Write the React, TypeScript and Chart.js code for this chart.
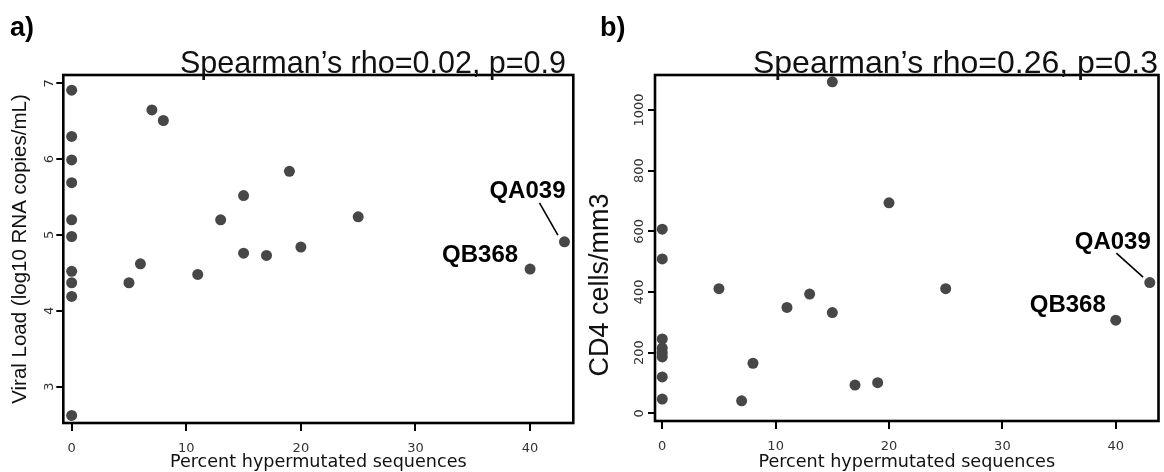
import React, { useEffect, useRef } from "react";
import { Chart, registerables } from "chart.js";

Chart.register(...registerables);

// ---------- data ----------
const xTickValues = [0, 10, 20, 30, 40];
const viralTickValues = [3, 4, 5, 6, 7];
const cd4TickValues = [0, 200, 400, 600, 800, 1000];

// panel a: viral load
const viralHyper = [0, 0, 0, 0, 0, 0, 0, 0, 0, 0, 5, 6, 7, 8, 11, 13, 15, 15, 17, 19, 20, 25, 40, 43];
const viralLoad = [6.91, 6.3, 5.99, 5.69, 5.2, 4.98, 4.52, 4.37, 4.19, 2.62, 4.37, 4.62, 6.65, 6.51, 4.48, 5.2, 5.52, 4.76, 4.73, 5.84, 4.84, 5.24, 4.55, 4.91];

// panel b: CD4 count
const cd4Hyper = [0, 0, 0, 0, 0, 0, 0, 0, 5, 7, 8, 11, 13, 15, 15, 17, 19, 20, 25, 40, 43];
const cd4Count = [607, 509, 245, 215, 200, 186, 120, 47, 411, 41, 165, 349, 393, 332, 1093, 93, 101, 694, 411, 307, 431];

// labelled subjects
const noteNames = ["QA039", "QB368"];
const noteHyper = [43, 40];
const noteViral = [4.91, 4.55];
const noteCd4 = [431, 307];

const panelLetters = ["a)", "b)"];
const statTexts = ["Spearman\u2019s rho=0.02, p=0.9", "Spearman\u2019s rho=0.26, p=0.3"];
const xTitle = "Percent hypermutated sequences";
const yTitles = ["Viral Load (log10 RNA copies/mL)", "CD4 cells/mm3"];

// ---------- styling ----------
const DOT = "#474747";
const TICK_FONT = "DejaVu Sans";
const SANS = "Liberation Sans";

type NoteStyle = { dx: number; dy: number; line?: [number, number, number, number] };

type Panel = {
  xs: number[];
  ys: number[];
  xMin: number;
  xMax: number;
  yMin: number;
  yMax: number;
  yTicks: number[];
  yAxisW: number;
  xAxisH: number;
  padRight: number;
  yTickPad: number;
  yTitle: string;
  yTitleSize: number;
  yTitleCustom: boolean;
  yTitleX: number;
  yTitleY: number;
  letter: string;
  letterX: number;
  stat: string;
  statRight: number;
  statSize: number;
  noteYs: number[];
  noteStyles: NoteStyle[];
};

function decorPlugin(p: Panel) {
  return {
    id: "decor",
    afterDraw(chart: any) {
      const { ctx, chartArea: ca, scales } = chart;
      const xs = scales.x;
      const ys = scales.y;
      ctx.save();
      ctx.strokeStyle = "#000";
      ctx.lineWidth = 2.6;
      ctx.strokeRect(ca.left, ca.top, ca.right - ca.left, ca.bottom - ca.top);

      ctx.fillStyle = "#000";
      ctx.textBaseline = "alphabetic";
      ctx.textAlign = "left";
      ctx.font = `bold 27px "${SANS}"`;
      ctx.fillText(p.letter, p.letterX, 36);

      ctx.textAlign = "right";
      ctx.font = `${p.statSize}px "${SANS}"`;
      ctx.fillStyle = "#111";
      ctx.fillText(p.stat, p.statRight, 72.5);

      if (p.yTitleCustom) {
        ctx.save();
        ctx.translate(p.yTitleX, p.yTitleY);
        ctx.rotate(-Math.PI / 2);
        ctx.textAlign = "center";
        ctx.textBaseline = "middle";
        ctx.font = `${p.yTitleSize}px "${SANS}"`;
        ctx.fillText(p.yTitle, 0, 0);
        ctx.restore();
      }

      ctx.font = `bold 24px "${SANS}"`;
      ctx.textAlign = "center";
      ctx.textBaseline = "middle";
      ctx.fillStyle = "#000";
      ctx.strokeStyle = "#000";
      noteNames.forEach((name, i) => {
        const st = p.noteStyles[i];
        const px = xs.getPixelForValue(noteHyper[i]);
        const py = ys.getPixelForValue(p.noteYs[i]);
        ctx.fillText(name, px + st.dx, py + st.dy);
        if (st.line) {
          ctx.beginPath();
          ctx.lineWidth = 1.6;
          ctx.moveTo(px + st.line[0], py + st.line[1]);
          ctx.lineTo(px + st.line[2], py + st.line[3]);
          ctx.stroke();
        }
      });
      ctx.restore();
    },
  };
}

function buildConfig(p: Panel): any {
  return {
    type: "scatter",
    data: {
      datasets: [
        {
          data: p.xs.map((x, i) => ({ x, y: p.ys[i] })),
          pointRadius: 5.5,
          pointHoverRadius: 5.5,
          backgroundColor: DOT,
          borderWidth: 0,
        },
      ],
    },
    options: {
      responsive: false,
      animation: false,
      events: [],
      layout: { padding: { left: 0, top: 75, right: p.padRight, bottom: 0 } },
      plugins: {
        legend: { display: false },
        tooltip: { enabled: false },
        title: { display: false },
      },
      scales: {
        x: {
          type: "linear",
          min: p.xMin,
          max: p.xMax,
          afterBuildTicks: (s: any) => {
            s.ticks = xTickValues.map((v) => ({ value: v }));
          },
          afterFit: (s: any) => {
            s.height = p.xAxisH;
          },
          grid: { display: true, drawOnChartArea: false, drawTicks: true, tickLength: 8, color: "#000", lineWidth: 2 },
          border: { display: false },
          ticks: {
            font: { family: TICK_FONT, size: 13 },
            color: "#333",
            padding: 9.5,
            autoSkip: false,
            maxRotation: 0,
            minRotation: 0,
            callback: (v: any) => String(v),
          },
          title: {
            display: true,
            text: xTitle,
            font: { family: TICK_FONT, size: 17.6, lineHeight: 1 },
            color: "#111",
            padding: { top: 0, bottom: 0.5 },
          },
        },
        y: {
          type: "linear",
          min: p.yMin,
          max: p.yMax,
          afterBuildTicks: (s: any) => {
            s.ticks = p.yTicks.map((v) => ({ value: v }));
          },
          afterFit: (s: any) => {
            s.width = p.yAxisW;
          },
          grid: { display: true, drawOnChartArea: false, drawTicks: true, tickLength: 7, color: "#000", lineWidth: 2 },
          border: { display: false },
          ticks: {
            font: { family: TICK_FONT, size: 13 },
            color: "#333",
            padding: p.yTickPad,
            autoSkip: false,
            minRotation: 90,
            maxRotation: 90,
            crossAlign: "center",
            callback: (v: any) => String(v),
          },
          title: {
            display: !p.yTitleCustom,
            text: p.yTitle,
            font: { family: SANS, size: p.yTitleSize, lineHeight: 1 },
            color: "#111",
            padding: { top: 10, bottom: 0 },
          },
        },
      },
    },
    plugins: [decorPlugin(p)],
  };
}

const panelA: Panel = {
  xs: viralHyper,
  ys: viralLoad,
  xMin: -0.73,
  xMax: 43.77,
  yMin: 2.52,
  yMax: 7.11,
  yTicks: viralTickValues,
  yAxisW: 63.3,
  xAxisH: 49,
  padRight: 6.7,
  yTickPad: 2.2,
  yTitle: yTitles[0],
  yTitleSize: 20.5,
  yTitleCustom: false,
  yTitleX: 0,
  yTitleY: 0,
  letter: panelLetters[0],
  letterX: 10,
  stat: statTexts[0],
  statRight: 566,
  statSize: 30.5,
  noteYs: noteViral,
  noteStyles: [
    { dx: -37, dy: -50, line: [-25, -39, -6.6, -6.7] },
    { dx: -50, dy: -14 },
  ],
};

const panelB: Panel = {
  xs: cd4Hyper,
  ys: cd4Count,
  xMin: -0.64,
  xMax: 43.77,
  yMin: -25.4,
  yMax: 1115.4,
  yTicks: cd4TickValues,
  yAxisW: 75,
  xAxisH: 51,
  padRight: 4,
  yTickPad: -8.5,
  yTitle: yTitles[1],
  yTitleSize: 27,
  yTitleCustom: true,
  yTitleX: 21,
  yTitleY: 285,
  letter: panelLetters[1],
  letterX: 20,
  stat: statTexts[1],
  statRight: 1158 - 580,
  statSize: 32,
  noteYs: noteCd4,
  noteStyles: [
    { dx: -37, dy: -40, line: [-33.4, -29.4, -6.7, -5.4] },
    { dx: -48, dy: -15 },
  ],
};

export default function App() {
  const refA = useRef<HTMLCanvasElement>(null);
  const refB = useRef<HTMLCanvasElement>(null);

  useEffect(() => {
    const a = new Chart(refA.current as HTMLCanvasElement, buildConfig(panelA));
    const b = new Chart(refB.current as HTMLCanvasElement, buildConfig(panelB));
    return () => {
      a.destroy();
      b.destroy();
    };
  }, []);

  return (
    <div style={{ position: "fixed", left: 0, top: 0, width: 1164, height: 472, background: "#fff", overflow: "hidden" }}>
      <canvas ref={refA} width={580} height={472} style={{ position: "absolute", left: 0, top: 0, width: 580, height: 472 }} />
      <canvas ref={refB} width={584} height={472} style={{ position: "absolute", left: 580, top: 0, width: 584, height: 472 }} />
    </div>
  );
}
